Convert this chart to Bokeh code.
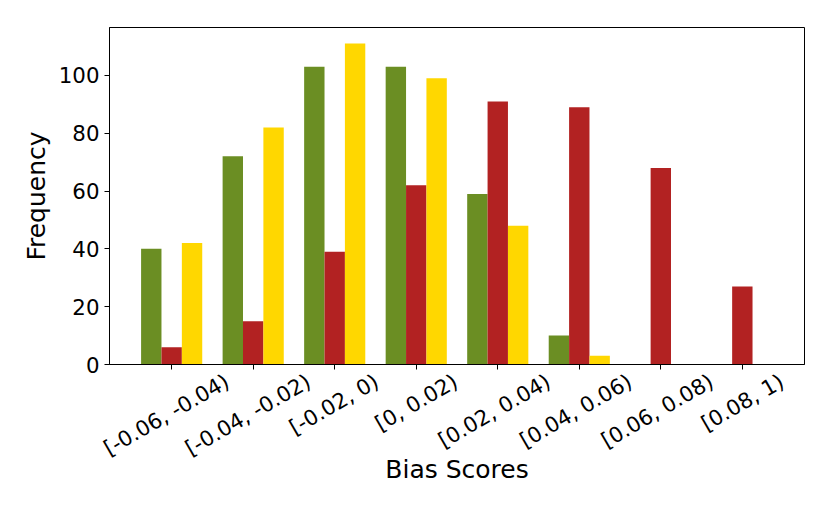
import math
from bokeh.plotting import figure
from bokeh.models import ColumnDataSource, FixedTicker, Range1d, LinearAxis, CustomJSTickFormatter
from bokeh.embed import file_html
from bokeh.resources import INLINE

categories = ["[-0.06, -0.04)", "[-0.04, -0.02)", "[-0.02, 0)", "[0, 0.02)",
              "[0.02, 0.04)", "[0.04, 0.06)", "[0.06, 0.08)", "[0.08, 1)"]
green_vals = [40, 72, 103, 103, 59, 10, 0, 0]
red_vals = [6, 15, 39, 62, 91, 89, 68, 27]
yellow_vals = [42, 82, 111, 99, 48, 3, 0, 0]
y_ticks = [0, 20, 40, 60, 80, 100]

bar_w = 0.25
idx = list(range(len(categories)))
TICK_FS = 21.33
LABEL_FS = 25
ROT = math.pi / 6
X0, X1 = -0.7625, 7.7625
FRAME_W, FRAME_H = 695, 337

_W = {"[": 0.390, "]": 0.390, "(": 0.390, ")": 0.390, "-": 0.361, ".": 0.318,
      ",": 0.318, " ": 0.318}
def text_em(s):
    return sum(_W.get(ch, 0.636) for ch in s)

p = figure(width=814, height=500, output_backend="svg", toolbar_location=None,
           frame_width=FRAME_W, frame_height=FRAME_H,
           min_border_left=109, min_border_top=27, min_border_right=10, min_border_bottom=136,
           x_range=Range1d(X0, X1), y_range=Range1d(0, 116.55))

series = [(green_vals, -bar_w, "#6B8E23"), (red_vals, 0.0, "#B22222"), (yellow_vals, bar_w, "#FFD700")]
for vals, off, col in series:
    src = ColumnDataSource(dict(x=[i + off for i in idx], top=vals))
    p.vbar(x="x", top="top", bottom=0, width=bar_w, source=src, fill_color=col, line_color=None)

p.xgrid.visible = False
p.ygrid.visible = False
p.outline_line_color = "black"
p.outline_line_width = 1
p.background_fill_color = "white"
p.border_fill_color = "white"

# main x axis: tick marks only
p.xaxis.ticker = FixedTicker(ticks=idx)
p.xaxis.major_label_overrides = {i: "" for i in idx}
p.xaxis.major_label_text_font_size = "0px"
p.xaxis.major_label_standoff = 0
p.yaxis.ticker = FixedTicker(ticks=y_ticks)

for ax in (p.xaxis[0], p.yaxis[0]):
    ax.minor_tick_line_color = None
    ax.major_tick_out = 5
    ax.major_tick_in = 0
    ax.axis_line_color = "black"
    ax.major_tick_line_color = "black"

p.yaxis.major_label_text_font = "DejaVu Sans"
p.yaxis.major_label_text_font_size = f"{TICK_FS}px"
p.yaxis.major_label_text_color = "black"
p.yaxis.major_label_standoff = 5
p.yaxis.axis_label = "Frequency"
p.yaxis.axis_label_text_font = "DejaVu Sans"
p.yaxis.axis_label_text_font_size = f"{LABEL_FS}px"
p.yaxis.axis_label_text_font_style = "normal"
p.yaxis.axis_label_text_color = "black"

# label axis: rotated labels shifted so each rotated label is centered on its tick (matplotlib style)
ppu = FRAME_W / (X1 - X0)
label_ticks = [i + TICK_FS * (0.324 * text_em(c) + 0.47) / ppu for i, c in zip(idx, categories)]

lab_ax = LinearAxis(ticker=FixedTicker(ticks=label_ticks),
                    formatter=CustomJSTickFormatter(args=dict(labels=categories),
                                                    code="return labels[index];"))
lab_ax.axis_line_color = None
lab_ax.major_tick_line_color = None
lab_ax.minor_tick_line_color = None
lab_ax.major_tick_out = 0
lab_ax.major_tick_in = 0
lab_ax.major_label_orientation = ROT
lab_ax.major_label_standoff = 10
lab_ax.major_label_text_font = "DejaVu Sans"
lab_ax.major_label_text_font_size = f"{TICK_FS}px"
lab_ax.major_label_text_color = "black"
lab_ax.axis_label = "Bias Scores"
lab_ax.axis_label_standoff = -19
lab_ax.axis_label_text_font = "DejaVu Sans"
lab_ax.axis_label_text_font_size = f"{LABEL_FS}px"
lab_ax.axis_label_text_font_style = "normal"
lab_ax.axis_label_text_color = "black"
p.add_layout(lab_ax, "below")

open("out.html", "w").write(file_html(p, INLINE))
